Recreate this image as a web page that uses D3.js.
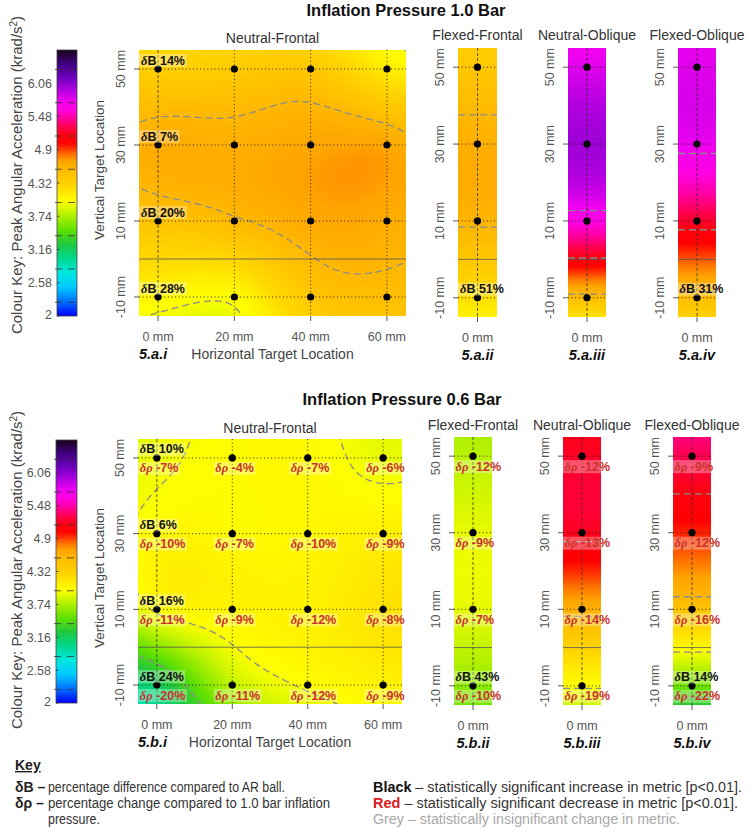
<!DOCTYPE html>
<html><head><meta charset="utf-8">
<script src="https://cdn.jsdelivr.net/npm/d3@7"></script>
<style>
body{margin:0;background:#fff}
svg{display:block}
text{font-family:"Liberation Sans",Arial,Helvetica,sans-serif}
</style>
</head><body>
<svg id="chart" width="749" height="828"></svg>
<script>
// ---------------- DATA ----------------
const xLocations = [0, 20, 40, 60];
const yLocations = [50, 30, 10, -10];
const xTickLabels = ["0 mm", "20 mm", "40 mm", "60 mm"];
const yTickLabels = ["50 mm", "30 mm", "10 mm", "-10 mm"];
const colourTicks = [2, 2.58, 3.16, 3.74, 4.32, 4.9, 5.48, 6.06];
const colourTickLabels = ["2", "2.58", "3.16", "3.74", "4.32", "4.9", "5.48", "6.06"];
const colourMin = 2, colourMax = 6.64;
const contourLevels = [2.24, 2.82, 3.40, 3.98, 4.56, 5.14, 5.72, 6.30];
const colourStops = [2.0, 2.25, 2.5, 2.75, 3.0, 3.25, 3.5, 3.75, 4.0, 4.25, 4.45, 4.56, 4.7, 4.82, 4.93, 5.02, 5.15, 5.3, 5.45, 5.6, 5.75, 5.95, 6.15, 6.4, 6.64];
const colourStopColours = ["#0000ff","#0070ff","#00c8ff","#00e8e0","#00d890","#20c840","#60e000","#b0f000","#ffff00","#ffd800","#ffc400","#ffb800","#ffa400","#ff7000","#ff3000","#ff0000","#ff0010","#ff0050","#ff00a0","#ff00e0","#f000f0","#b000e0","#7000c0","#400080","#180018"];

// Peak angular acceleration (krad/s^2), rows = yLocations, cols = xLocations
const nf10 = [
  [4.34, 4.38, 4.42, 4.12],
  [4.64, 4.62, 4.68, 4.68],
  [4.45, 4.54, 4.66, 4.64],
  [4.05, 4.02, 4.42, 4.50]
];
const ff10 = [4.42, 4.62, 4.58, 4.20];
const no10 = [5.80, 6.00, 5.62, 4.50];
const fo10 = [5.80, 5.76, 5.22, 4.50];

const nf06 = [
  [3.95, 4.02, 4.04, 3.93],
  [4.04, 4.03, 4.05, 4.10],
  [4.01, 4.07, 4.08, 4.18],
  [3.15, 3.80, 4.00, 4.08]
];
const ff06 = [3.78, 3.92, 3.92, 3.65];
const no06 = [5.20, 5.18, 4.62, 4.00];
const fo06 = [5.30, 4.96, 4.45, 3.55];

// annotation labels (rows = yLocations)
const dB_nf10 = ["14%", "7%", "20%", "28%"];
const dB_ff10 = ["", "", "", "51%"];
const dB_no10 = ["", "", "", ""];
const dB_fo10 = ["", "", "", "31%"];
const dB_nf06 = ["10%", "6%", "16%", "24%"];
const dR_nf06 = [
  ["-7%", "-4%", "-7%", "-6%"],
  ["-10%", "-7%", "-10%", "-9%"],
  ["-11%", "-9%", "-12%", "-8%"],
  ["-20%", "-11%", "-12%", "-9%"]
];
const dB_ff06 = ["", "", "", "43%"];
const dR_ff06 = ["-12%", "-9%", "-7%", "-10%"];
const dB_no06 = ["", "", "", ""];
const dR_no06 = ["-12%", "-13%", "-14%", "-19%"];
const dB_fo06 = ["", "", "", "14%"];
const dR_fo06 = ["-9%", "-12%", "-16%", "-22%"];

const panelTitles = ["Neutral-Frontal", "Flexed-Frontal", "Neutral-Oblique", "Flexed-Oblique"];

// ---------------- HELPERS ----------------
const colour = d3.scaleLinear().domain(colourStops).range(colourStopColours).interpolate(d3.interpolateRgb).clamp(true);

function solve(A, b) {
  const n = b.length;
  const M = A.map((r, i) => r.slice().concat([b[i]]));
  for (let c = 0; c < n; c++) {
    let p = c;
    for (let r = c + 1; r < n; r++) if (Math.abs(M[r][c]) > Math.abs(M[p][c])) p = r;
    [M[c], M[p]] = [M[p], M[c]];
    for (let r = c + 1; r < n; r++) {
      const k = M[r][c] / M[c][c];
      for (let j = c; j <= n; j++) M[r][j] -= k * M[c][j];
    }
  }
  const x = new Array(n).fill(0);
  for (let r = n - 1; r >= 0; r--) {
    let s = M[r][n];
    for (let j = r + 1; j < n; j++) s -= M[r][j] * x[j];
    x[r] = s / M[r][r];
  }
  return x;
}
// thin-plate spline surface with affine term
function thinPlate(pts, vals) {
  const n = pts.length;
  const g = r => r === 0 ? 0 : r * r * Math.log(r);
  const A = pts.map(p => pts.map(q => g(Math.hypot(p[0] - q[0], p[1] - q[1]))).concat([1, p[0], p[1]]));
  A.push(pts.map(() => 1).concat([0, 0, 0]));
  A.push(pts.map(p => p[0]).concat([0, 0, 0]));
  A.push(pts.map(p => p[1]).concat([0, 0, 0]));
  const w = solve(A, vals.concat([0, 0, 0]));
  return (x, y) => pts.reduce((s, p, i) => s + w[i] * g(Math.hypot(x - p[0], y - p[1])), 0) + w[n] + w[n + 1] * x + w[n + 2] * y;
}
// 1-D natural cubic spline via |r|^3 with linear term
function spline1D(ys, vals) {
  const n = ys.length;
  const A = [];
  for (let i = 0; i < n; i++) {
    const row = ys.map(y => Math.pow(Math.abs(ys[i] - y), 3));
    row.push(1, ys[i]);
    A.push(row);
  }
  A.push(ys.map(() => 1).concat([0, 0]));
  A.push(ys.slice().concat([0, 0]));
  const w = solve(A, vals.concat([0, 0]));
  return y => ys.reduce((s, yy, i) => s + w[i] * Math.pow(Math.abs(y - yy), 3), 0) + w[n] + w[n + 1] * y;
}

const svg = d3.select("#chart");
const defs = svg.append("defs");
let clipId = 0;
const labelRed = "#c8322b";

function addLabel(g, x, y, parts, opts) {
  const t = g.append("text").attr("x", x).attr("y", y)
    .attr("font-size", 12.5).attr("font-weight", "bold").attr("fill", opts.fill);
  parts.forEach(p => {
    const ts = t.append("tspan").text(p.t);
    if (p.italic) ts.attr("font-style", "italic").attr("font-family", "'Liberation Serif','DejaVu Serif',serif").attr("font-weight", "bold");
  });
  const bb = t.node().getBBox();
  const bx = opts.boxX !== undefined ? opts.boxX : bb.x - 1.5;
  g.insert("rect", () => t.node())
    .attr("x", bx).attr("y", y - 10.5).attr("width", (bb.x + bb.width + 1.5) - bx)
    .attr("height", 13).attr("fill", "#fff").attr("fill-opacity", 0.32);
}

function colourBar(cb) {
  const g = svg.append("g");
  const y = d3.scaleLinear().domain([colourMin, colourMax]).range([cb.y1, cb.y0]);
  const strips = d3.range(cb.y0, cb.y1, 1);
  g.selectAll("rect.s").data(strips).join("rect")
    .attr("x", cb.x0).attr("y", d => d).attr("width", cb.x1 - cb.x0).attr("height", 1.05)
    .attr("fill", d => colour(y.invert(d + 0.5)));
  g.append("rect").attr("x", cb.x0).attr("y", cb.y0).attr("width", cb.x1 - cb.x0).attr("height", cb.y1 - cb.y0)
    .attr("fill", "none").attr("stroke", "#444").attr("stroke-width", 0.8);
  g.selectAll("line.c").data(contourLevels).join("line")
    .attr("x1", cb.x0 - 2).attr("x2", cb.x1).attr("y1", d => y(d)).attr("y2", d => y(d))
    .attr("stroke", "#333").attr("stroke-opacity", 0.8).attr("stroke-width", 1).attr("stroke-dasharray", "7,6");
  g.selectAll("line.t").data(colourTicks).join("line")
    .attr("x1", cb.x0).attr("x2", cb.x0 + 2.5).attr("y1", d => y(d)).attr("y2", d => y(d))
    .attr("stroke", "#333").attr("stroke-width", 0.8);
  g.selectAll("text.t").data(colourTicks).join("text")
    .attr("x", cb.x0 - 5).attr("y", d => Math.min(y(d) + 4.5, cb.y1 + 3))
    .attr("text-anchor", "end").attr("font-size", 12.5).attr("fill", "#555")
    .text((d, i) => colourTickLabels[i]);
  svg.append("text").attr("transform", `translate(${cb.labelX},${cb.labelY}) rotate(-90)`)
    .attr("text-anchor", "middle").attr("font-size", 15).attr("fill", "#444")
    .html("Colour Key: Peak Angular Acceleration (krad/s<tspan baseline-shift='super' font-size='10'>2</tspan>)");
}

function axesCommon(g, box, x, y, xs) {
  yLocations.forEach((v, i) => {
    g.append("line").attr("x1", box.x0 - 5).attr("x2", box.x0).attr("y1", y(v)).attr("y2", y(v))
      .attr("stroke", "#444").attr("stroke-width", 0.9);
    g.append("text").attr("transform", `translate(${box.x0 - 14},${y(v)}) rotate(-90)`)
      .attr("text-anchor", "middle").attr("font-size", 12.5).attr("fill", "#555").text(yTickLabels[i]);
  });
  xs.forEach((v, i) => {
    g.append("line").attr("x1", x(v)).attr("x2", x(v)).attr("y1", box.y1).attr("y2", box.y1 + 5)
      .attr("stroke", "#444").attr("stroke-width", 0.9);
    g.append("text").attr("x", x(v)).attr("y", box.y1 + 25).attr("text-anchor", "middle")
      .attr("font-size", 12.5).attr("fill", "#555").text(xTickLabels[i]);
  });
}

function gridAndPoints(g, box, x, y, xs) {
  yLocations.forEach(v => {
    g.append("line").attr("x1", box.x0).attr("x2", box.x1).attr("y1", y(v)).attr("y2", y(v))
      .attr("stroke", "#222").attr("stroke-width", 1).attr("stroke-dasharray", "1,2.6");
  });
  xs.forEach(v => {
    const dashed = v === 0;
    g.append("line").attr("x1", x(v)).attr("x2", x(v)).attr("y1", box.y0).attr("y2", box.y1)
      .attr("stroke", dashed ? "#333" : "#222").attr("stroke-width", dashed ? 0.8 : 1)
      .attr("stroke-dasharray", dashed ? "3,2" : "1,2.6");
  });
  g.append("line").attr("x1", box.x0).attr("x2", box.x1).attr("y1", y(0)).attr("y2", y(0))
    .attr("stroke", "#555").attr("stroke-width", 0.8);
}

function bigPanel(box, vals, dB, dR, tag) {
  const g = svg.append("g");
  const x = d3.scaleLinear().domain([-5, 65]).range([box.x0, box.x1]);
  const y = d3.scaleLinear().domain([55, -15]).range([box.y0, box.y1]);
  const pts = [], v = [];
  yLocations.forEach((yy, r) => xLocations.forEach((xx, c) => { pts.push([xx, yy]); v.push(vals[r][c]); }));
  const f = thinPlate(pts, v);
  const cells = [];
  const step = 2;
  for (let py = box.y0; py < box.y1; py += step)
    for (let px = box.x0; px < box.x1; px += step)
      cells.push([px, py]);
  g.append("g").selectAll("rect").data(cells).join("rect")
    .attr("x", d => d[0]).attr("y", d => d[1])
    .attr("width", d => Math.min(step, box.x1 - d[0]) + 0.05).attr("height", d => Math.min(step, box.y1 - d[1]) + 0.05)
    .attr("fill", d => colour(f(x.invert(d[0] + step / 2), y.invert(d[1] + step / 2))))
    .attr("shape-rendering", "crispEdges");
  const n = 141, res = 0.5;
  const grid = new Array(n * n);
  for (let j = 0; j < n; j++) for (let i = 0; i < n; i++) grid[j * n + i] = f(-5 + i * res, 55 - j * res);
  const conts = d3.contours().size([n, n]).thresholds(contourLevels)(grid);
  const proj = d3.geoTransform({ point: function (cx, cy) {
    this.stream.point(x(-5 + (cx - 0.5) * res), y(55 - (cy - 0.5) * res)); } });
  const id = "clip" + (clipId++);
  defs.append("clipPath").attr("id", id).append("rect")
    .attr("x", box.x0).attr("y", box.y0).attr("width", box.x1 - box.x0).attr("height", box.y1 - box.y0);
  g.append("g").attr("clip-path", `url(#${id})`).selectAll("path").data(conts).join("path")
    .attr("d", d3.geoPath(proj)).attr("fill", "none").attr("stroke", "#8c8c8c")
    .attr("stroke-width", 1.3).attr("stroke-dasharray", "7,4");
  gridAndPoints(g, box, x, y, xLocations);
  axesCommon(g, box, x, y, xLocations);
  yLocations.forEach((yy, r) => xLocations.forEach((xx, c) => {
    g.append("circle").attr("cx", x(xx)).attr("cy", y(yy)).attr("r", 3.6).attr("fill", "#000");
  }));
  yLocations.forEach((yy, r) => {
    if (dB[r]) addLabel(g, x(0) - 17, y(yy) - 4.5, [{ t: "δ", italic: true }, { t: "B " + dB[r] }], { fill: "#111", boxX: box.x0 });
    if (dR) xLocations.forEach((xx, c) => {
      addLabel(g, x(xx) - 17, y(yy) + 14.5, [{ t: "δρ", italic: true }, { t: " " + dR[r][c] }], { fill: labelRed });
    });
  });
  g.append("text").attr("x", (box.x0 + box.x1) / 2).attr("y", box.titleY).attr("text-anchor", "middle")
    .attr("font-size", 14).attr("fill", "#333").text(panelTitles[0]);
  g.append("text").attr("x", (box.x0 + box.x1) / 2).attr("y", box.y1 + 42.5).attr("text-anchor", "middle")
    .attr("font-size", 14).attr("fill", "#444").text("Horizontal Target Location");
  g.append("text").attr("x", box.x0).attr("y", box.y1 + 43).attr("font-size", 14.5)
    .attr("font-weight", "bold").attr("font-style", "italic").attr("fill", "#111").text(tag);
  g.append("text").attr("transform", `translate(${box.vx},${box.vy}) rotate(-90)`)
    .attr("text-anchor", "middle").attr("font-size", 13.5).attr("fill", "#444").text("Vertical Target Location");
}

function narrowPanel(box, vals, dB, dR, title, tag) {
  const g = svg.append("g");
  const x = d3.scaleLinear().domain([-5, 5]).range([box.x0, box.x1]);
  const y = d3.scaleLinear().domain([55, -15]).range([box.y0, box.y1]);
  const f = spline1D(yLocations, vals);
  const strips = d3.range(box.y0, box.y1, 1);
  g.selectAll("rect.s").data(strips).join("rect")
    .attr("x", box.x0).attr("y", d => d).attr("width", box.x1 - box.x0)
    .attr("height", d => Math.min(1, box.y1 - d) + 0.05)
    .attr("fill", d => colour(f(y.invert(d + 0.5))));
  const crossings = [];
  contourLevels.forEach(L => {
    let prev = f(55);
    for (let m = 55 - 0.05; m >= -15; m -= 0.05) {
      const cur = f(m);
      if ((prev - L) * (cur - L) < 0) crossings.push(m + 0.05 * (L - cur) / (prev - cur));
      prev = cur;
    }
  });
  g.selectAll("line.c").data(crossings).join("line")
    .attr("x1", box.x0).attr("x2", box.x1).attr("y1", d => y(d)).attr("y2", d => y(d))
    .attr("stroke", "#8c8c8c").attr("stroke-width", 1.3).attr("stroke-dasharray", "7,4");
  gridAndPoints(g, box, x, y, [0]);
  axesCommon(g, box, x, y, [0]);
  yLocations.forEach(yy => g.append("circle").attr("cx", x(0)).attr("cy", y(yy)).attr("r", 3.6).attr("fill", "#000"));
  yLocations.forEach((yy, r) => {
    if (dB[r]) addLabel(g, x(0) - 17.5, y(yy) - 4.5, [{ t: "δ", italic: true }, { t: "B " + dB[r] }], { fill: "#111", boxX: box.x0 });
    if (dR) addLabel(g, x(0) - 17.5, y(yy) + 14.5, [{ t: "δρ", italic: true }, { t: " " + dR[r] }], { fill: labelRed, boxX: box.x0 });
  });
  g.append("text").attr("x", (box.x0 + box.x1) / 2).attr("y", box.titleY).attr("text-anchor", "middle")
    .attr("font-size", 14).attr("fill", "#333").text(title);
  g.append("text").attr("x", (box.x0 + box.x1) / 2).attr("y", box.y1 + 43).attr("text-anchor", "middle")
    .attr("font-size", 14.5).attr("font-weight", "bold").attr("font-style", "italic").attr("fill", "#111").text(tag);
}

// ---------------- LAYOUT ----------------
svg.append("text").attr("x", 406).attr("y", 15.5).attr("text-anchor", "middle")
  .attr("font-size", 16.5).attr("font-weight", "bold").attr("fill", "#111").text("Inflation Pressure 1.0 Bar");
colourBar({ x0: 57, x1: 77, y0: 50, y1: 316, labelX: 22, labelY: 175 });
bigPanel({ x0: 139, x1: 406, y0: 50, y1: 316, titleY: 43, vx: 104, vy: 170 }, nf10, dB_nf10, null, "5.a.i");
narrowPanel({ x0: 458, x1: 497, y0: 48, y1: 317, titleY: 39.5 }, ff10, dB_ff10, null, panelTitles[1], "5.a.ii");
narrowPanel({ x0: 568, x1: 606, y0: 48, y1: 317, titleY: 39.5 }, no10, dB_no10, null, panelTitles[2], "5.a.iii");
narrowPanel({ x0: 678, x1: 716, y0: 48, y1: 317, titleY: 39.5 }, fo10, dB_fo10, null, panelTitles[3], "5.a.iv");

svg.append("text").attr("x", 402).attr("y", 405).attr("text-anchor", "middle")
  .attr("font-size", 16.5).attr("font-weight", "bold").attr("fill", "#111").text("Inflation Pressure 0.6 Bar");
colourBar({ x0: 56, x1: 77, y0: 440, y1: 703, labelX: 22, labelY: 570 });
bigPanel({ x0: 138, x1: 402, y0: 439, y1: 704, titleY: 433, vx: 104, vy: 578 }, nf06, dB_nf06, dR_nf06, "5.b.i");
narrowPanel({ x0: 454, x1: 492, y0: 437, y1: 705, titleY: 429.5 }, ff06, dB_ff06, dR_ff06, panelTitles[1], "5.b.ii");
narrowPanel({ x0: 563, x1: 601, y0: 437, y1: 705, titleY: 429.5 }, no06, dB_no06, dR_no06, panelTitles[2], "5.b.iii");
narrowPanel({ x0: 673, x1: 711, y0: 437, y1: 705, titleY: 429.5 }, fo06, dB_fo06, dR_fo06, panelTitles[3], "5.b.iv");

// ---------------- KEY ----------------
const key = svg.append("g").attr("font-family", "'Liberation Sans Narrow','Liberation Sans',Arial,sans-serif");
const kfs = 14;
key.append("text").attr("x", 15).attr("y", 770).attr("font-size", 14).attr("font-weight", "bold")
  .attr("text-decoration", "underline").attr("fill", "#222").text("Key");
key.append("text").attr("x", 15).attr("y", 792).attr("font-size", kfs).attr("font-weight", "bold").attr("fill", "#222").text("δB –");
key.append("text").attr("x", 48).attr("y", 792).attr("font-size", kfs).attr("fill", "#333")
  .attr("textLength", 237).attr("lengthAdjust", "spacingAndGlyphs").text("percentage difference  compared to AR ball.");
key.append("text").attr("x", 15).attr("y", 808).attr("font-size", kfs).attr("font-weight", "bold").attr("fill", "#222").text("δρ –");
key.append("text").attr("x", 48).attr("y", 808).attr("font-size", kfs).attr("fill", "#333")
  .attr("textLength", 282).attr("lengthAdjust", "spacingAndGlyphs").text("percentage change compared to 1.0 bar inflation");
key.append("text").attr("x", 48).attr("y", 824).attr("font-size", kfs).attr("fill", "#333")
  .attr("textLength", 52).attr("lengthAdjust", "spacingAndGlyphs").text("pressure.");
const k1 = key.append("text").attr("x", 373).attr("y", 792).attr("font-size", kfs).attr("fill", "#333")
  .attr("textLength", 369).attr("lengthAdjust", "spacingAndGlyphs");
k1.append("tspan").attr("font-weight", "bold").attr("fill", "#111").text("Black");
k1.append("tspan").text(" – statistically significant increase in metric [p<0.01].");
const k2 = key.append("text").attr("x", 373).attr("y", 808).attr("font-size", kfs).attr("fill", "#333")
  .attr("textLength", 365).attr("lengthAdjust", "spacingAndGlyphs");
k2.append("tspan").attr("font-weight", "bold").attr("fill", "#e0161d").text("Red");
k2.append("tspan").text(" – statistically significant decrease in metric [p<0.01].");
key.append("text").attr("x", 373).attr("y", 824).attr("font-size", kfs).attr("fill", "#a8a8a8")
  .attr("textLength", 307).attr("lengthAdjust", "spacingAndGlyphs").text("Grey – statistically insignificant change in metric.");
</script>
</body></html>
